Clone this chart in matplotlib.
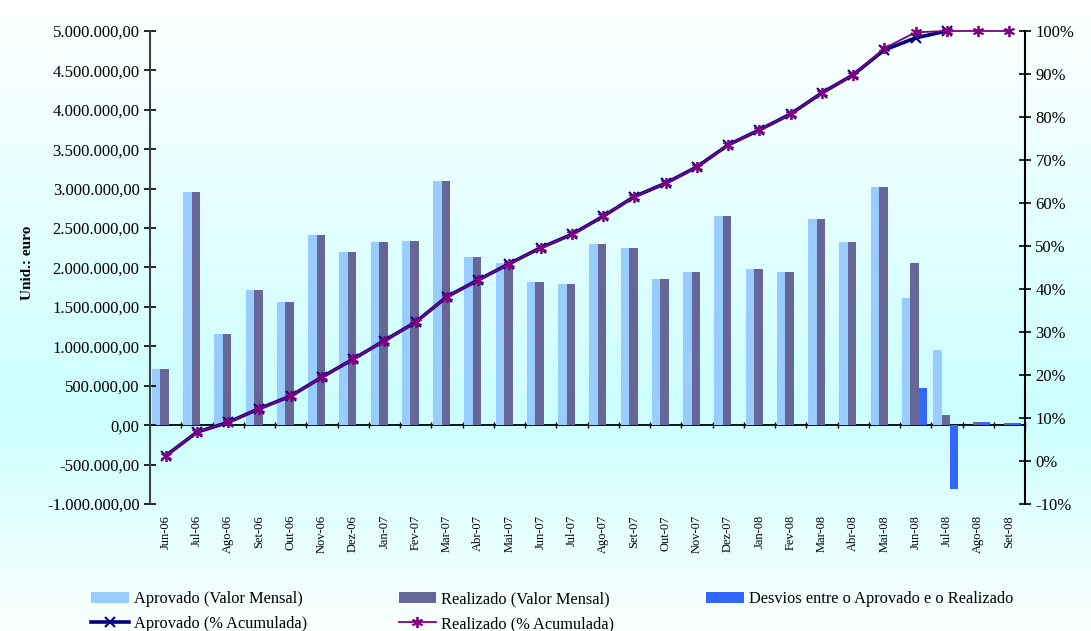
import numpy as np
import matplotlib
matplotlib.use('Agg')
import matplotlib.pyplot as plt
from matplotlib.colors import LinearSegmentedColormap
from matplotlib.ticker import FuncFormatter, MultipleLocator

plt.rcParams['font.family'] = ['Liberation Serif', 'DejaVu Serif']

#Months of the programme
meses = ['Jun-06', 'Jul-06', 'Ago-06', 'Set-06', 'Out-06', 'Nov-06', 'Dez-06',
         'Jan-07', 'Fev-07', 'Mar-07', 'Abr-07', 'Mai-07', 'Jun-07', 'Jul-07',
         'Ago-07', 'Set-07', 'Out-07', 'Nov-07', 'Dez-07', 'Jan-08', 'Fev-08',
         'Mar-08', 'Abr-08', 'Mai-08', 'Jun-08', 'Jul-08', 'Ago-08', 'Set-08']

#Monthly values (euro)
aprovado = [709000, 2962000, 1152000, 1709000, 1557000, 2418000, 2202000,
            2329000, 2342000, 3101000, 2127000, 2051000, 1810000, 1797000,
            2304000, 2253000, 1848000, 1937000, 2658000, 1975000, 1937000,
            2620000, 2329000, 3025000, 1608000, 949000, 0, 0]
realizado = [709000, 2962000, 1152000, 1709000, 1557000, 2418000, 2202000,
             2329000, 2342000, 3101000, 2127000, 2051000, 1810000, 1797000,
             2304000, 2253000, 1848000, 1937000, 2658000, 1975000, 1937000,
             2620000, 2329000, 3025000, 2051000, 127000, 38000, 25000]
desvios = [0]*24 + [472000, -806000, 38000, 25000]

#Cumulative percentages
aprovado_acum = [1.2, 6.7, 9.0, 12.2, 15.1, 19.5, 23.7, 28.0, 32.3, 38.2, 42.1,
                 45.9, 49.6, 52.7, 56.9, 61.5, 64.6, 68.4, 73.5, 77.0, 80.7,
                 85.6, 89.8, 95.6, 98.4, 100, np.nan, np.nan]
realizado_acum = [1.2, 6.7, 9.0, 12.2, 15.1, 19.5, 23.7, 28.0, 32.3, 38.2, 42.1,
                  45.9, 49.6, 52.7, 56.9, 61.5, 64.6, 68.4, 73.5, 77.0, 80.7,
                  85.6, 89.8, 96.0, 99.7, 100, 100, 100]

def euro(v, pos):
    s = '{:,.2f}'.format(v)
    return s.replace(',', 'X').replace('.', ',').replace('X', '.')

W, H = 1091, 631
fig = plt.figure(figsize=(W/100., H/100.), dpi=100)

#Background: white on top, light cyan in the middle, fading at the bottom
bg = fig.add_axes([0, 0, 1, 1], zorder=-10)
cmap = LinearSegmentedColormap.from_list(
    'fundo', [(0, '#ffffff'), (0.66, '#ccffff'), (1, '#fafffe')])
grad = np.linspace(0, 1, 256).reshape(-1, 1)
bg.imshow(grad, aspect='auto', cmap=cmap, extent=[0, 1, 0, 1])
bg.axis('off')

ax = fig.add_axes([150./W, (H-504.)/H, 875./W, 473./H])
ax.set_facecolor('none')

x = np.arange(len(meses))
w = 0.27
b1 = ax.bar(x - 0.305, aprovado, w, color='#99ccff', label='Aprovado (Valor Mensal)')
b2 = ax.bar(x - 0.035, realizado, w, color='#666699', label='Realizado (Valor Mensal)')
b3 = ax.bar(x + 0.235, desvios, w, color='#3366ff',
            label='Desvios entre o Aprovado e o Realizado')

ax.set_xlim(-0.5, len(meses) - 0.5)
ax.set_ylim(-1000000, 5000000)
ax.yaxis.set_major_locator(MultipleLocator(500000))
ax.yaxis.set_major_formatter(FuncFormatter(euro))
ax.tick_params(axis='y', direction='inout', length=8, width=1.2, labelsize=12)
ax.set_xticks(x)
ax.set_xticklabels(meses, rotation=90, fontsize=9)
ax.tick_params(axis='x', length=0, pad=8)
ax.set_ylabel('Unid.: euro', fontsize=11, fontweight='bold')
ax.yaxis.set_label_coords(-0.133, 0.51)
for s in ['top', 'right', 'bottom']:
    ax.spines[s].set_visible(False)
ax.spines['left'].set_linewidth(1.5)
ax.spines['left'].set_color('#404040')

#Category axis drawn on the zero line
zero = ax.secondary_xaxis(1/6.)
zero.set_xticks(np.arange(len(meses)) + 0.5)
zero.tick_params(direction='inout', length=5, width=1, labelbottom=False)
zero.spines['bottom'].set_linewidth(1.3)

ax2 = ax.twinx()
ax2.set_ylim(-10, 100)
ax2.yaxis.set_major_locator(MultipleLocator(10))
ax2.yaxis.set_major_formatter(FuncFormatter(lambda v, p: '{:.0f}%'.format(v)))
ax2.tick_params(axis='y', direction='inout', length=8, width=1.2, labelsize=12)
for s in ['top', 'left', 'bottom']:
    ax2.spines[s].set_visible(False)
ax2.spines['right'].set_linewidth(1.5)

l1, = ax2.plot(x, aprovado_acum, color='#000080', lw=2.6, marker='x',
               ms=7, mew=1.5, label='Aprovado (% Acumulada)', clip_on=False)
l2, = ax2.plot(x, realizado_acum, color='#800080', lw=1.3, marker=(6, 2, 0),
               ms=8, mew=1.3, label='Realizado (% Acumulada)', clip_on=False)

handles = [b1, l1, b2, l2, b3]
fig.legend(handles, [h.get_label() for h in handles], ncol=3,
           loc='upper left', bbox_to_anchor=(91./W, (H-591.)/H),
           frameon=False, borderpad=0, fontsize=11.8, handlelength=2.3,
           handletextpad=0.3, columnspacing=5.6, labelspacing=0.55,
           borderaxespad=0)

fig.savefig('out.png', dpi=100)
